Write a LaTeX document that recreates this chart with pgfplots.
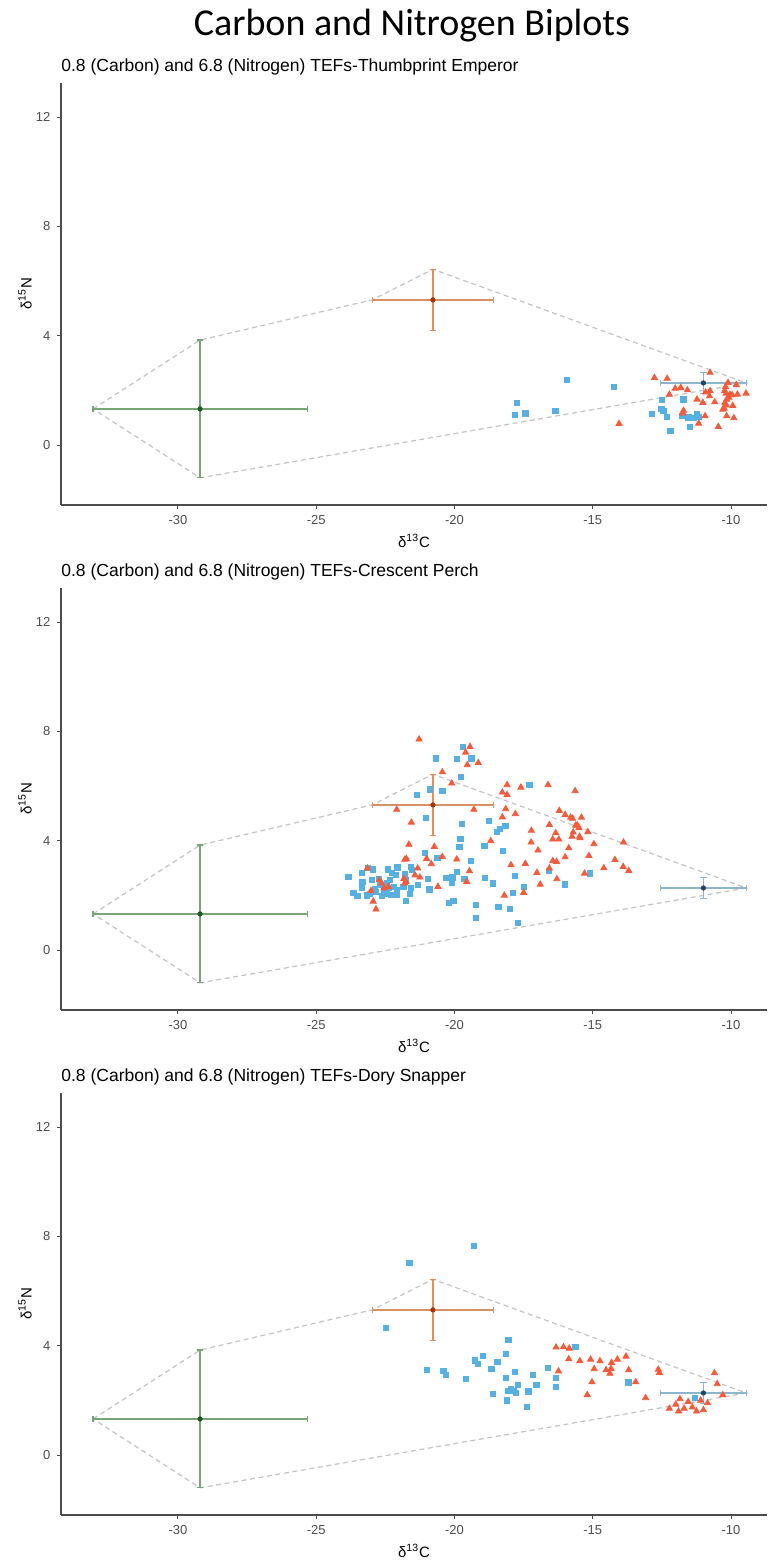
\documentclass[border=0pt]{standalone}
\usepackage{fontspec}
\setmainfont{Liberation Sans}
\newfontfamily\calibri{Carlito}
\usepackage{pgfplots}
\pgfplotsset{compat=1.18}

\definecolor{ptblue}{RGB}{86,176,228}
\definecolor{ptred}{RGB}{245,90,58}
\definecolor{srcgreen}{RGB}{120,165,120}
\definecolor{srcgreenD}{RGB}{30,90,30}
\definecolor{srcorange}{RGB}{215,145,100}
\definecolor{srcorangeD}{RGB}{150,60,10}
\definecolor{srcblue}{RGB}{140,182,205}
\definecolor{srcblueD}{RGB}{30,70,100}
\definecolor{hull}{RGB}{195,195,195}

\pgfplotsset{
  biplot/.style={
    scale only axis, width=353pt, height=211pt,
    xmin=-34.23, xmax=-8.70, ymin=-2.195, ymax=13.245,
    axis lines*=left,
    axis line style={black!70, line width=0.7pt},
    xtick={-30,-25,-20,-15,-10}, xticklabels={-30,-25,-20,-15,-10},
    ytick={0,4,8,12}, yticklabels={0,4,8,12},
    xtick pos=left, ytick pos=left,
    tick align=outside, major tick length=1.8pt,
    tick style={black!70, line width=0.5pt},
    ticklabel style={font=\fontsize{6.5}{7}\selectfont, text=black!70},
    xlabel={δ\textsuperscript{13}C}, ylabel={δ\textsuperscript{15}N},
    every axis x label/.style={at={(axis description cs:0.5,-0.085)}, anchor=center,
      font=\fontsize{7.5}{8}\selectfont},
    every axis y label/.style={at={(axis description cs:-0.051,0.5)}, anchor=center,
      rotate=90, font=\fontsize{7.5}{8}\selectfont},
    every axis title/.style={at={(axis description cs:0,1.038)}, anchor=west,
      inner sep=0pt, font=\fontsize{8.75}{9}\selectfont},
    clip=false,
  },
  bluepts/.style={only marks, mark=square*, mark size=1.3pt, color=ptblue},
  redpts/.style={only marks, mark=triangle*, mark size=1.75pt, color=ptred},
  srcbar/.style={only marks, mark=*, mark size=1.1pt,
    error bars/.cd, x dir=both, x explicit, y dir=both, y explicit,
    error bar style={#1, line width=0.65pt},
    error mark options={#1, rotate=90, mark size=1.6pt, line width=0.6pt}},
}

% mixing polygon (same in every panel)
\newcommand{\sources}{%
  \addplot[hull, line width=0.6pt, dash pattern=on 2.5pt off 1.8pt]
    coordinates {(-33.07,1.32) (-29.2,3.84) (-22.98,5.31) (-20.78,6.43)
                 (-9.45,2.27) (-29.2,-1.20) (-33.07,1.32)};
}
% the three sources, mean +- sd
\newcommand{\sourcebars}{%
  \addplot[color=srcgreenD, srcbar=srcgreen]
    coordinates {(-29.2,1.32) +- (3.87,2.52)};
  \addplot[color=srcorangeD, srcbar=srcorange]
    coordinates {(-20.78,5.31) +- (2.2,1.12)};
  \addplot[color=srcblueD, srcbar=srcblue]
    coordinates {(-11.0,2.27) +- (1.55,0.38)};
}

\begin{document}
\begin{tikzpicture}
\useasboundingbox (0,0) rectangle (383.5pt,-781pt);
\node[font=\calibri\fontsize{19}{20}\selectfont, anchor=center] at (206pt,-13pt)
  {Carbon and Nitrogen Biplots};

% ---------- panel 1
\begin{axis}[biplot, at={(30.5pt,-252.5pt)}, anchor=south west,
  title={0.8 (Carbon) and 6.8 (Nitrogen) TEFs-Thumbprint Emperor}]
\sources
\addplot[bluepts] coordinates {
 (-15.94,2.38) (-14.24,2.12) (-17.73,1.54) (-17.81,1.09) (-17.44,1.16)
 (-16.35,1.26) (-12.51,1.65) (-11.72,1.67) (-12.86,1.13) (-12.52,1.33)
 (-12.45,1.26) (-12.32,1.04) (-11.76,1.06) (-11.54,1.01) (-11.36,0.98)
 (-11.18,1.04) (-11.24,1.13) (-12.19,0.52) (-11.49,0.65)};
\addplot[redpts] coordinates {
 (-12.77,2.46) (-12.31,2.43) (-10.76,2.65) (-12.23,1.85) (-12.02,2.07)
 (-11.82,2.10) (-11.58,2.01) (-11.23,1.67) (-11.02,1.55) (-10.92,1.93)
 (-10.76,1.98) (-10.78,1.79) (-10.59,1.57) (-11.72,1.26) (-11.75,1.16)
 (-10.94,1.06) (-11.17,0.79) (-10.46,0.67) (-14.05,0.78) (-10.11,2.28)
 (-9.81,2.20) (-9.46,1.89) (-10.20,2.13) (-10.23,1.99) (-10.18,1.89)
 (-10.04,1.85) (-9.96,1.83) (-10.08,1.74) (-9.77,1.85) (-10.16,1.67)
 (-10.22,1.55) (-10.18,1.46) (-10.25,1.34) (-10.30,1.30) (-9.94,1.44)
 (-10.16,1.06) (-9.90,0.99)};
\sourcebars
\end{axis}

% ---------- panel 2
\begin{axis}[biplot, at={(30.5pt,-505pt)}, anchor=south west,
  title={0.8 (Carbon) and 6.8 (Nitrogen) TEFs-Crescent Perch}]
\sources
\addplot[bluepts] coordinates {
 (-19.71,7.42) (-20.68,7.01) (-19.92,6.98) (-19.39,7.01) (-19.76,6.32)
 (-20.89,5.88) (-20.44,5.82) (-21.37,5.67) (-17.29,6.04) (-21.03,4.83)
 (-19.73,4.60) (-18.75,4.71) (-18.16,4.54) (-18.35,4.44) (-18.47,4.31)
 (-19.79,4.06) (-19.82,3.76) (-18.92,3.81) (-18.26,3.63) (-21.06,3.55)
 (-20.62,3.37) (-19.42,3.27) (-19.90,2.87) (-20.31,2.65) (-19.64,2.61)
 (-18.90,2.65) (-17.81,2.72)
 (-23.84,2.68) (-23.36,2.81) (-23.12,3.01) (-22.96,2.95) (-23.66,2.10)
 (-23.51,1.98) (-23.33,2.49) (-23.35,2.26) (-23.18,2.00) (-23.06,2.05)
 (-22.85,2.13) (-23.00,2.56) (-22.88,2.22) (-22.73,2.59) (-22.70,2.38)
 (-22.42,2.95) (-22.27,2.81) (-22.09,3.05) (-22.04,3.02) (-22.13,2.74)
 (-22.45,2.44) (-22.33,2.56) (-22.39,2.26) (-22.55,2.17) (-22.62,1.98)
 (-22.45,2.05) (-22.19,2.32) (-22.09,2.20) (-22.09,2.01) (-22.31,2.01)
 (-21.79,2.77) (-21.77,2.56) (-21.85,2.32) (-21.77,1.81) (-21.58,3.05)
 (-21.55,2.93) (-21.58,2.26) (-21.60,2.05) (-21.31,2.38) (-20.96,2.60)
 (-20.91,2.22) (-20.08,2.66) (-20.09,2.46) (-20.19,1.73) (-20.04,1.79)
 (-19.23,1.64) (-19.23,1.18) (-18.62,2.44) (-18.41,1.59)
 (-17.70,1.00) (-17.90,2.10) (-17.50,2.30) (-16.00,2.40) (-15.10,2.80)
 (-16.60,2.90) (-18.00,1.50)};
\addplot[redpts] coordinates {
 (-21.28,7.71) (-19.44,7.44) (-19.60,7.23) (-19.54,6.77) (-19.14,6.85)
 (-20.44,6.51) (-20.10,6.10) (-18.10,6.04) (-18.27,5.77) (-18.10,5.68)
 (-17.60,5.95) (-16.62,6.04) (-22.09,5.14) (-19.30,5.14) (-18.15,5.16)
 (-17.80,4.98) (-21.56,4.67) (-16.21,5.10) (-16.00,4.95) (-16.57,4.58)
 (-16.34,4.28) (-16.45,4.05) (-16.23,4.05) (-17.22,4.37) (-17.23,3.94)
 (-18.69,3.99) (-18.27,4.86) (-16.98,3.65) (-21.65,3.86) (-20.73,3.78)
 (-21.74,3.34) (-21.80,3.31) (-21.01,3.34) (-20.44,3.41) (-19.92,3.32)
 (-20.84,3.15) (-19.46,2.89) (-17.96,3.11) (-17.44,3.16) (-17.02,2.83)
 (-16.57,2.99) (-16.45,3.26) (-16.31,3.23) (-21.33,2.99) (-23.15,2.99)
 (-15.64,5.82) (-15.80,4.85) (-15.73,4.81) (-15.41,4.85) (-15.62,4.56)
 (-15.56,4.57) (-15.50,4.47) (-15.18,4.32) (-15.71,4.31) (-15.75,4.15)
 (-15.48,4.15) (-15.46,4.10) (-14.96,3.88) (-13.89,3.94) (-15.87,3.73)
 (-15.14,3.45)
 (-22.94,1.78) (-22.84,1.49) (-23.02,2.17) (-22.72,2.56) (-22.63,2.44)
 (-22.55,2.26) (-22.39,2.32) (-21.83,2.61) (-21.80,2.44) (-21.76,2.50)
 (-21.43,2.74) (-21.25,2.66) (-20.60,2.32) (-19.56,2.50)
 (-13.70,2.90) (-13.90,3.05) (-14.20,3.30) (-14.60,3.00) (-15.30,2.80)
 (-16.00,3.40) (-16.30,2.60) (-16.90,2.40) (-17.50,2.10) (-18.20,2.00)};
\sourcebars
\end{axis}

% ---------- panel 3
\begin{axis}[biplot, at={(30.5pt,-757.5pt)}, anchor=south west,
  title={0.8 (Carbon) and 6.8 (Nitrogen) TEFs-Dory Snapper}]
\sources
\addplot[bluepts] coordinates {
 (-19.31,7.65) (-21.63,7.03) (-22.48,4.65) (-18.05,4.21) (-18.97,3.64)
 (-18.14,3.70) (-19.25,3.46) (-19.15,3.34) (-18.45,3.41) (-21.01,3.10)
 (-20.40,3.09) (-20.31,2.92) (-19.58,2.78) (-18.67,3.16) (-17.82,3.05)
 (-18.15,2.81) (-17.17,2.92) (-16.61,3.20) (-16.34,2.82) (-16.32,2.49)
 (-17.04,2.56) (-17.70,2.56) (-18.05,2.35) (-17.97,2.40) (-17.87,2.35)
 (-17.77,2.26) (-18.60,2.23) (-17.33,2.33) (-18.11,2.00) (-17.39,1.77)
 (-15.63,3.95) (-13.71,2.66) (-11.30,2.10)};
\addplot[redpts] coordinates {
 (-16.33,3.94) (-16.06,3.95) (-15.85,3.90) (-15.87,3.51) (-15.47,3.44)
 (-15.08,3.50) (-14.74,3.44) (-14.32,3.38) (-14.11,3.50) (-13.80,3.61)
 (-16.24,3.07) (-14.95,3.15) (-14.52,3.11) (-14.34,3.16) (-14.38,2.98)
 (-13.70,3.11) (-12.63,3.13) (-12.59,3.01) (-15.03,2.67) (-13.45,2.67)
 (-15.20,2.20) (-13.09,2.09) (-12.23,1.70)
 (-12.00,1.85) (-11.85,2.05) (-11.70,1.70) (-11.55,1.95) (-11.40,1.75)
 (-11.25,1.60) (-11.10,2.00) (-11.00,1.65) (-10.85,1.90) (-10.60,3.00)
 (-10.50,2.60) (-10.30,2.20) (-11.90,1.60)};
\sourcebars
\end{axis}
\end{tikzpicture}
\end{document}
